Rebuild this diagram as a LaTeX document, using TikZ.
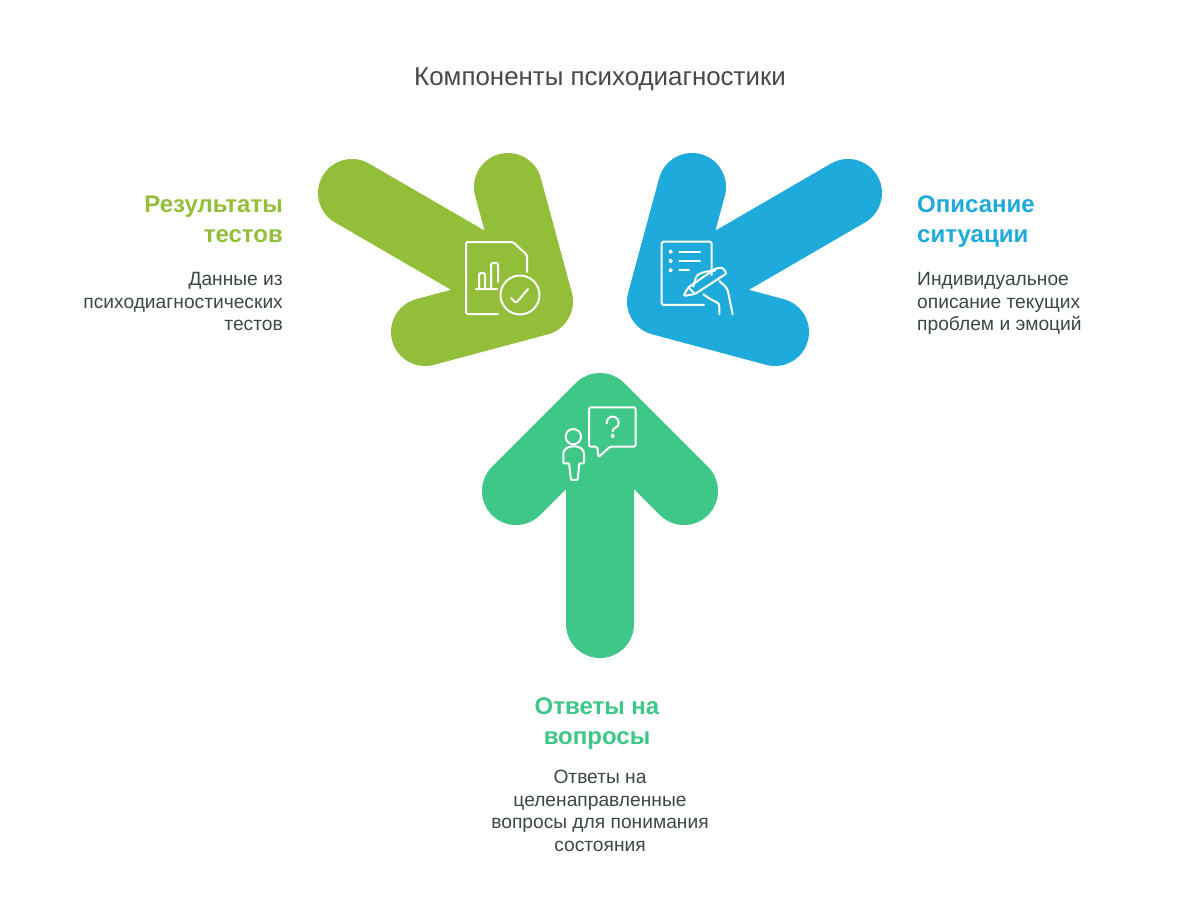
\documentclass[tikz,border=0pt]{standalone}
\usepackage{fontspec}
\setmainfont{Liberation Sans}
\usetikzlibrary{positioning}
\definecolor{cleaf}{HTML}{93BE3A}
\definecolor{csky}{HTML}{1EAADB}
\definecolor{cmint}{HTML}{3EC787}
\definecolor{ctext}{HTML}{3B4646}
\definecolor{ctitle}{HTML}{484848}
\tikzset{
  arrowbody/.style={draw=#1, line width=68pt, line cap=round, line join=round},
  glyph/.style={draw=white, line width=2pt, line cap=round, line join=round, rounded corners=1.5pt},
  title/.style={font=\fontsize{25.9}{30}\selectfont, text=ctitle, inner sep=0pt},
  head/.style={font=\fontsize{24}{30}\selectfont\bfseries, text=#1, inner sep=0pt},
  note/.style={font=\fontsize{19.2}{22.6}\selectfont, text=ctext, inner sep=0pt},
}
\begin{document}
\begin{tikzpicture}[x=1pt, y=-1pt]
  \useasboundingbox (0,0) rectangle (1200,916);
  \node[title] (ttl) at (600,79) {Компоненты психодиагностики};
  % arrows
  \draw[arrowbody=cleaf] (352,193) -- (539,301.5) (508,187) -- (539,301.5) -- (425,332);
  \draw[arrowbody=csky] (848,193) -- (661,301.5) (692,187) -- (661,301.5) -- (775,332);
  \draw[arrowbody=cmint] (600,624) -- (600,407) (516,491) -- (600,407) -- (684,491);
  % texts
  \node[head=cleaf, align=right, anchor=north east] (h1) at (283,196) {Результаты\\тестов};
  \node[note, align=right, anchor=north east] (n1) at (283,272) {Данные из\\психодиагностических\\тестов};
  \node[head=csky, align=left, anchor=north west] (h2) at (917,196) {Описание\\ситуации};
  \node[note, align=left, anchor=north west] (n2) at (917,272) {Индивидуальное\\описание текущих\\проблем и эмоций};
  \node[head=cmint, align=center, anchor=north] (h3) at (597,698) {Ответы на\\вопросы};
  \node[note, align=center, anchor=north] (n3) at (600,770) {Ответы на\\целенаправленные\\вопросы для понимания\\состояния};
  % report icon
  \draw[glyph] (498,314) -- (466,314) -- (466,242) -- (513,242) -- (527,255) -- (527,272);
  \draw[glyph] (476,289) -- (497,289) (479,289) -- (479,273) -- (485,273) -- (485,289) (491,289) -- (491,263) -- (498,263) -- (498,282);
  \draw[glyph] (520,295) circle (19.5);
  \draw[glyph] (511,298) -- (516,303) -- (528,289);
  % writing icon
  \begin{scope}[shift={(640,225)}, x=0.3333pt, y=-0.3333pt]
    \draw[glyph] (192,240) -- (65,240) -- (65,50) -- (215,50) -- (215,150);
    \foreach \yy/\xx in {80/180, 108/180, 136/147} {
      \fill[white] (92,\yy) circle (6);
      \draw[glyph] (118,\yy) -- (\xx,\yy);
    }
    \draw[glyph] (130,213) -- (145,187) -- (228,130) -- (248,128) -- (260,145) -- (165,207) -- cycle (145,187) -- (165,207);
    \draw[glyph, rounded corners=3pt] (160,185) -- (170,150) -- (195,140) -- (225,137);
    \draw[glyph, rounded corners=3pt] (238,168) -- (262,190) -- (278,268);
    \draw[glyph, rounded corners=3pt] (190,208) -- (215,225) -- (238,235) -- (238,268);
  \end{scope}
  % question icon
  \begin{scope}[shift={(545,395)}, x=0.3333pt, y=-0.3333pt]
    \draw[glyph] (132,155) -- (132,37) -- (272,37) -- (272,155) -- (195,155) -- (160,187) -- (157,155) -- cycle;
    \draw[glyph, rounded corners=0pt] (185,85) .. controls (185,58) and (221,58) .. (221,85) .. controls (221,100) and (203,95) .. (203,110);
    \fill[white] (203,123) circle (6);
    \draw[glyph] (85,125) circle (23);
    \draw[glyph, rounded corners=0.8pt] (55,205) -- (55,178) .. controls (55,162) and (70,154) .. (86,154) .. controls (102,154) and (117,162) .. (117,178) -- (117,205) -- (103,205) -- (98,255) -- (78,255) -- (72,205) -- cycle;
  \end{scope}
\end{tikzpicture}
\end{document}
